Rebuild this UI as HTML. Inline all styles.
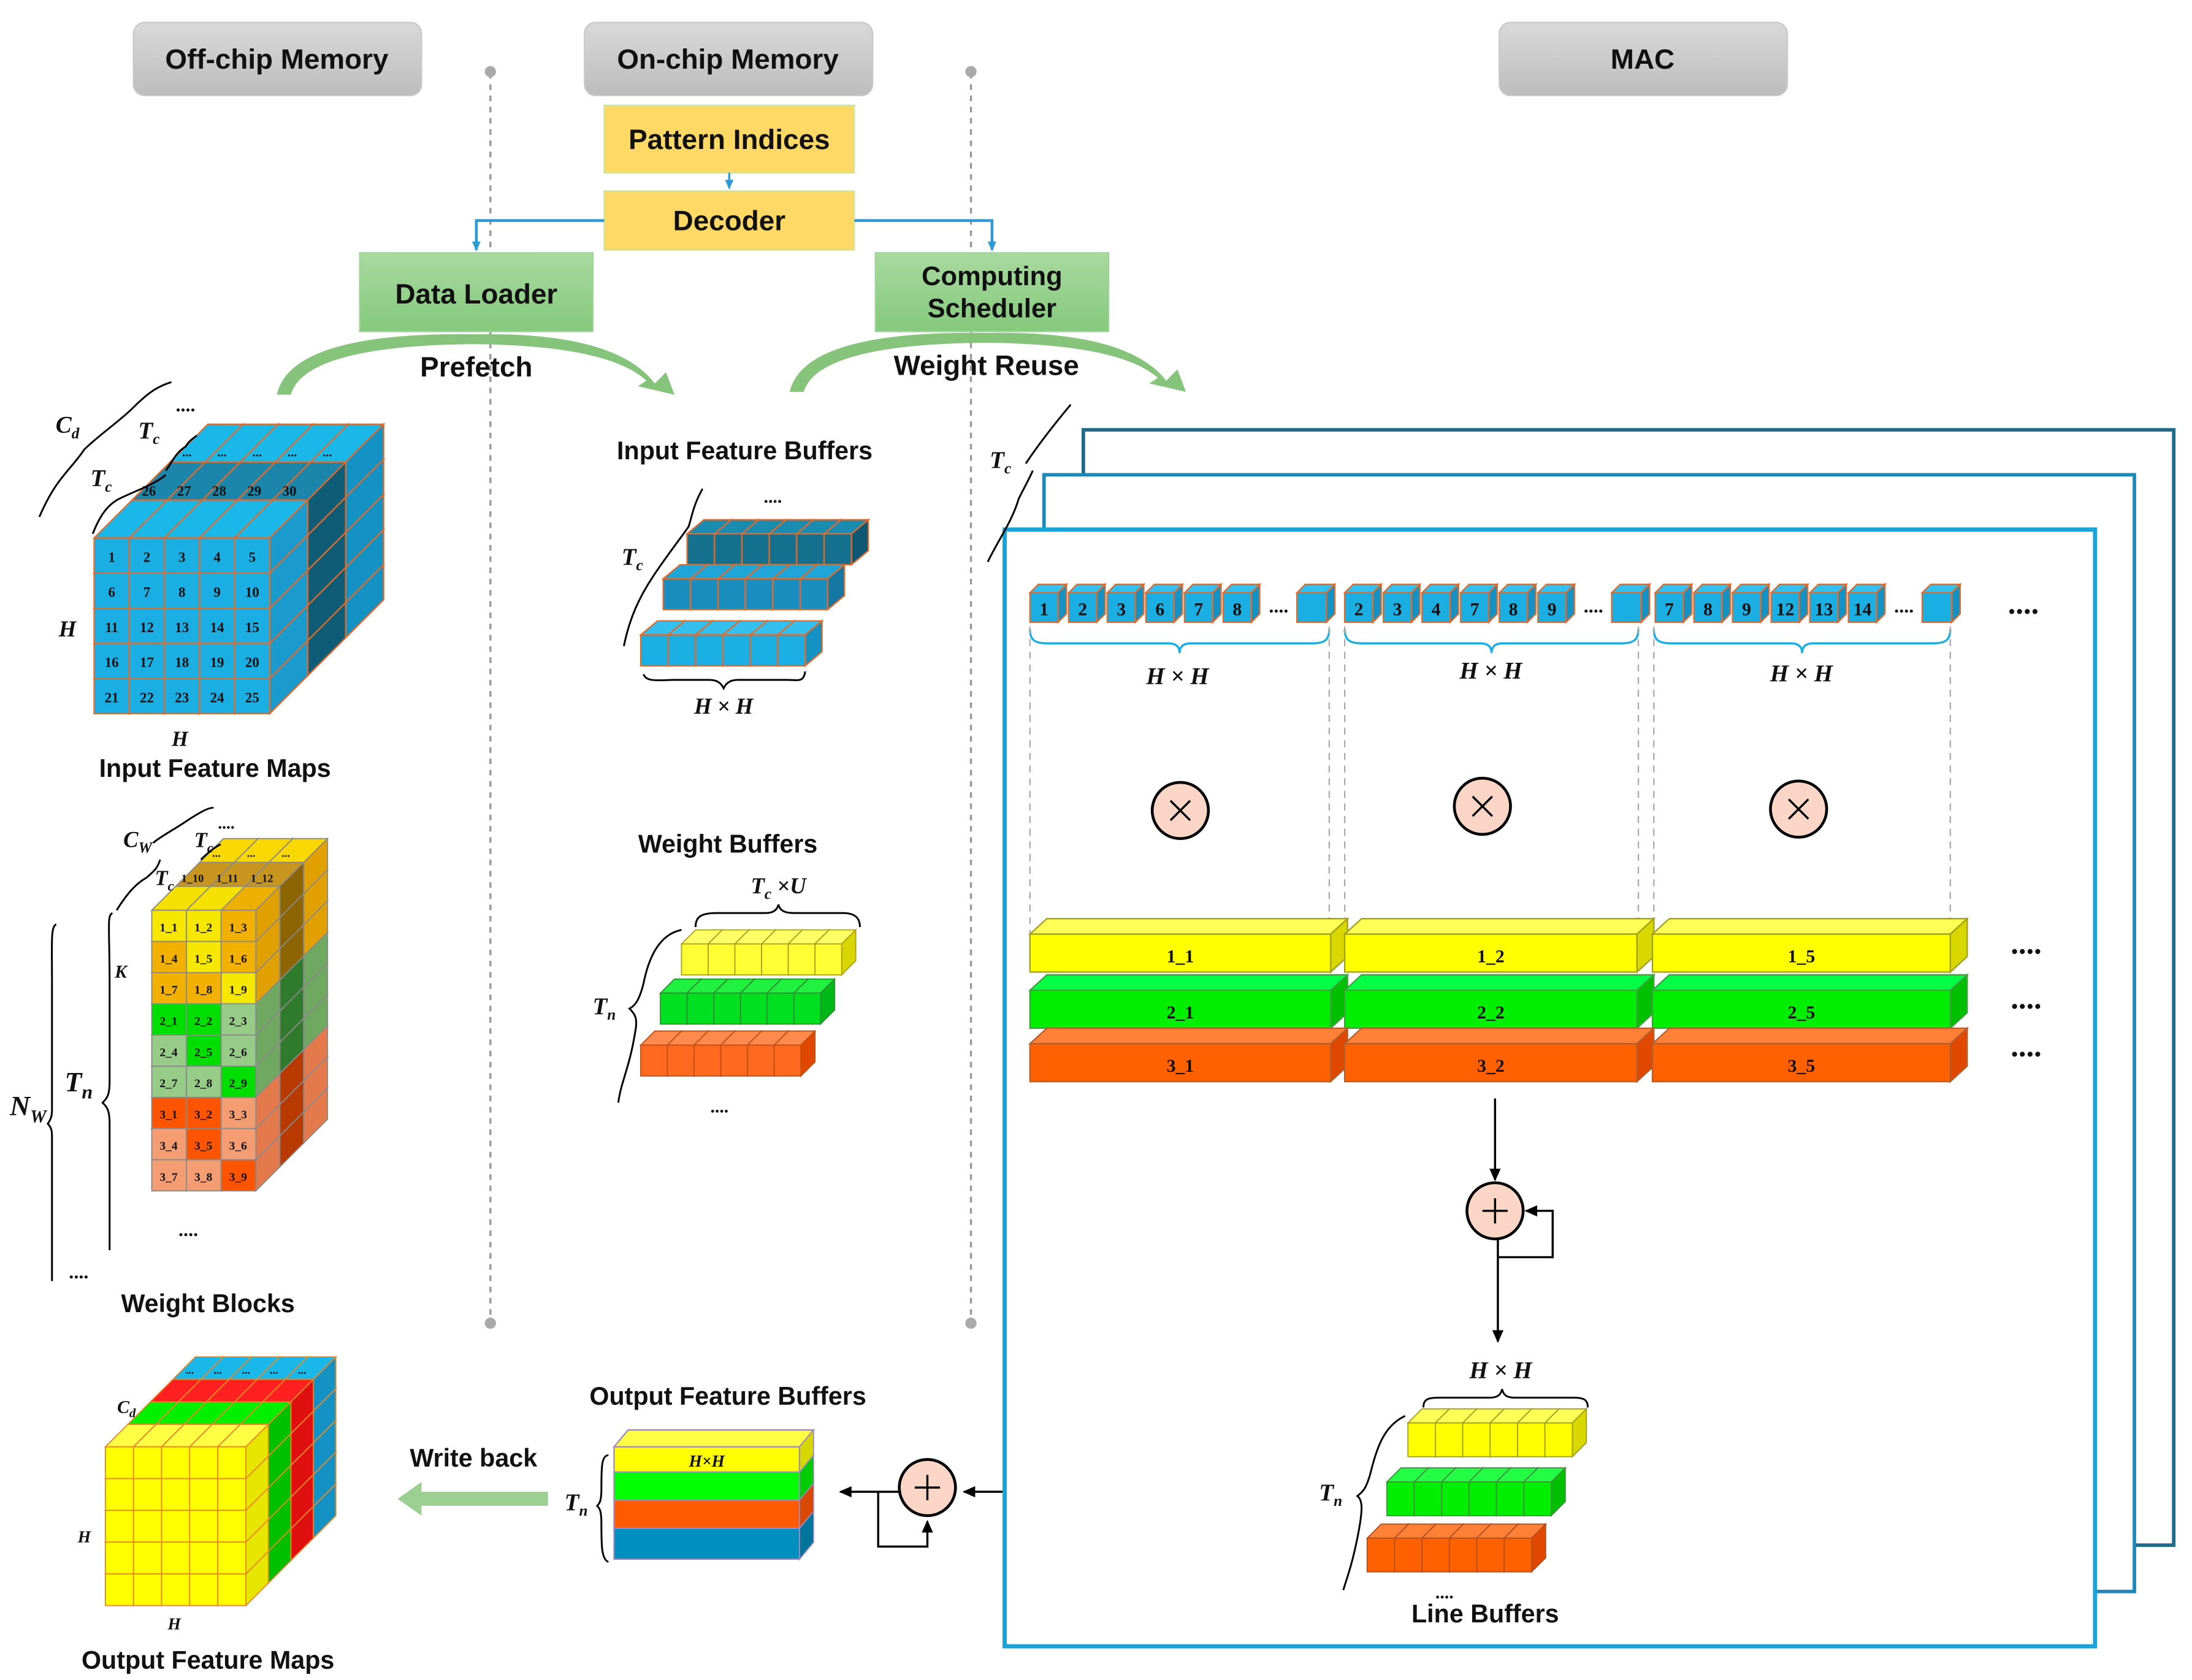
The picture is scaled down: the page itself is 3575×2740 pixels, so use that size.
<!DOCTYPE html>
<html><head><meta charset="utf-8">
<style>
html,body{margin:0;padding:0;background:#fff;}
svg{display:block;}
.t{font-family:"Liberation Sans",sans-serif;font-weight:bold;fill:#111;}
.m{font-family:"Liberation Serif",serif;font-weight:bold;font-style:italic;fill:#111;}
.n{font-family:"Liberation Serif",serif;font-weight:bold;fill:#111;}
</style></head><body>
<svg id="s" width="3575" height="2740" viewBox="0 0 1560 1196" preserveAspectRatio="none" xmlns="http://www.w3.org/2000/svg">
<defs>
<linearGradient id="gray" x1="0" y1="0" x2="0" y2="1"><stop offset="0" stop-color="#d9d9d9"/><stop offset="1" stop-color="#bdbdbd"/></linearGradient>
<linearGradient id="grn" x1="0" y1="0" x2="0" y2="1"><stop offset="0" stop-color="#a9d9a0"/><stop offset="1" stop-color="#84c97c"/></linearGradient>
<marker id="ab" markerWidth="8" markerHeight="8" refX="6" refY="4" orient="auto" markerUnits="userSpaceOnUse"><path d="M0,1 L7,4 L0,7 z" fill="#2E9BD6"/></marker>
<marker id="ak" markerWidth="10" markerHeight="10" refX="8" refY="5" orient="auto" markerUnits="userSpaceOnUse"><path d="M0,1 L9,5 L0,9 z" fill="#000"/></marker>
</defs>
<g id="g"></g>
</svg>
<script>
var g=document.getElementById('g'),out="";
function A(s){out+=s;}
function R(x,y,w,h,f,st,sw,extra){A('<rect x="'+x+'" y="'+y+'" width="'+w+'" height="'+h+'" fill="'+f+'" stroke="'+(st||'none')+'" stroke-width="'+(sw||1)+'" '+(extra||'')+'/>');}
function P(pts,f,st,sw){A('<polygon points="'+pts+'" fill="'+f+'" stroke="'+(st||'none')+'" stroke-width="'+(sw||1)+'"/>');}
function L(d,st,sw,extra){A('<path d="'+d+'" fill="none" stroke="'+st+'" stroke-width="'+(sw||1)+'" '+(extra||'')+'/>');}
function T(x,y,s,cls,size,anchor,fill){A('<text x="'+x+'" y="'+y+'" class="'+cls+'" font-size="'+size+'" text-anchor="'+(anchor||'middle')+'"'+(fill?' fill="'+fill+'"':'')+'>'+s+'</text>');}
function cube(x,y,w,h,dx,dy,fr,tp,sd,st,sw){
 P(x+','+y+' '+(x+dx)+','+(y-dy)+' '+(x+w+dx)+','+(y-dy)+' '+(x+w)+','+y,tp,st,sw);
 P((x+w)+','+y+' '+(x+w+dx)+','+(y-dy)+' '+(x+w+dx)+','+(y+h-dy)+' '+(x+w)+','+(y+h),sd,st,sw);
 R(x,y,w,h,fr,st,sw);
}
function circ(cx,cy,r,sym){A('<circle cx="'+cx+'" cy="'+cy+'" r="'+r+'" fill="#FBD6C6" stroke="#000" stroke-width="2"/>');
 if(sym=='x'){L('M'+(cx-7)+','+(cy-7)+' L'+(cx+7)+','+(cy+7)+' M'+(cx+7)+','+(cy-7)+' L'+(cx-7)+','+(cy+7),'#000',1.5);}
 else{L('M'+(cx-9)+','+cy+' L'+(cx+9)+','+cy+' M'+cx+','+(cy-9)+' L'+cx+','+(cy+9),'#000',1.5);}}
function brace(d){L(d,'#000',1.3);}

[[95,'Off-chip Memory'],[416,'On-chip Memory'],[1067,'MAC']].forEach(function(h){
 A('<rect x="'+h[0]+'" y="16" width="205" height="52" rx="8" fill="url(#gray)" stroke="#c8c8c8"/>');T(h[0]+102,49,h[1],'t',20);});
[349,691].forEach(function(x){L('M'+x+',52 L'+x+',942','#999',1.5,'stroke-dasharray="4,4"');
 A('<circle cx="'+x+'" cy="51" r="4" fill="#aaa"/><circle cx="'+x+'" cy="942" r="4" fill="#aaa"/>');});
R(430,75,178,48,'#FFD966','#cfe3a0',1);T(519,106,'Pattern Indices','t',20);
R(430,136,178,42,'#FFD966','#cfe3a0',1);T(519,164,'Decoder','t',20);
L('M519,123 L519,134','#2E9BD6',1.5,'marker-end="url(#ab)"');
L('M430,157 L339,157 L339,178','#2E9BD6',2,'marker-end="url(#ab)"');
L('M608,157 L706,157 L706,178','#2E9BD6',2,'marker-end="url(#ab)"');
R(256,180,166,56,'url(#grn)','#9fd59a',1);T(339,216,'Data Loader','t',20);
R(623,180,166,56,'url(#grn)','#9fd59a',1);T(706,203,'Computing','t',19);T(706,226,'Scheduler','t',19);
function carrow(x1,x2,y,top){var m=(x1+x2)/2;
 A('<path d="M'+x1+','+(y+2)+' Q'+(x1+10)+','+top+' '+m+','+(top+2)+' Q'+(x2-40)+','+top+' '+(x2-12)+','+(y-6)+' L'+(x2-4)+','+(y-14)+' L'+(x2+2)+','+(y+2)+' L'+(x2-24)+','+(y-4)+' L'+(x2-18)+','+(y-8)+' Q'+(x2-45)+','+(top+10)+' '+m+','+(top+9)+' Q'+(x1+20)+','+(top+10)+' '+(x1+10)+','+(y+2)+' z" fill="#86c47c"/>');}
carrow(197,478,279,236);carrow(562,842,277,235);
T(339,268,'Prefetch','t',20);T(702,267,'Weight Reuse','t',20);

(function(){var x0=67,y0=383,c=25,d=27;
 for(var k=2;k>=0;k--){var x=x0+d*k,y=y0-d*k;
  for(var r=4;r>=0;r--)for(var i=0;i<5;i++){
   cube(x+i*c,y+r*c,c,c,d,d,'#1AAEE3',k==0?'#1AB8E8':(k==1?'#1B86AA':'#1AB8E8'),k==0?'#1A9ACD':(k==1?'#0E5C76':'#1592C4'),'#E46A2A',1);}
 }
 var n=1;for(var r=0;r<5;r++)for(var i=0;i<5;i++){T(x0+i*c+12.5,y0+r*c+17,n,'n',10);n++;}
 for(var i=0;i<5;i++){T(x0+d+i*c+12,y0-d-3,26+i,'n',10);T(x0+2*d+i*c+12,y0-2*d-4,'...','n',9);}
 T(48,453,'H','m',16);T(128,531,'H','m',15);T(153,553,'Input Feature Maps','t',18);
 T(48,308,'C<tspan font-size="11" dy="4">d</tspan>','m',17);T(106,312,'T<tspan font-size="11" dy="4">c</tspan>','m',17);T(72,346,'T<tspan font-size="11" dy="4">c</tspan>','m',17);
 T(132,293,'....','n',14);
 brace('M28,368 C40,340 50,335 60,320 C70,310 85,300 95,290 C105,280 112,275 122,272');
 brace('M66,380 C70,370 75,360 85,355 C95,350 110,345 118,338');
 brace('M118,335 C122,330 125,322 132,318 C135,313 138,312 140,310');
})();

(function(){var x0=108,y0=648,cw=24.7,ch=22.2,d=17;
 var bands=[{a:'#F6E700',b:'#F2B100',t:'#F8D800',s:'#E0A000',bt:'#C8961E',bs:'#8C6400',pat:'AAB BAB BBA',p:'1'},
 {a:'#00DD00',b:'#96CC88',t:'#7BB26B',s:'#6FA860',bt:'#3E9A3A',bs:'#2F7A2C',pat:'AAB BAB BBA',p:'2'},
 {a:'#FF5500',b:'#F59D72',t:'#EE8454',s:'#E47A4C',bt:'#E05010',bs:'#B83A00',pat:'AAB BAB BBA',p:'3'}];
 for(var k=2;k>=0;k--){var x=x0+d*k,y=y0-d*k;
  for(var r=8;r>=0;r--){var bd=bands[Math.floor(r/3)];
   for(var i=0;i<3;i++){
    var top=k==0?(r==0?'#F5E000':bd.t):(k==1?bd.bt:bd.t), sd=k==1?bd.bs:bd.s;
    var pat=bd.pat.split(' ')[r%3][i]=='A'?bd.a:bd.b;
    if(k==0&&r==0&&i==2)top='#EDB000';
    cube(x+i*cw,y+r*ch,cw,ch,d,d,k==0?pat:bd.b,top,sd,'#8a8a8a',0.8);}}}
 for(var r=0;r<9;r++)for(var i=0;i<3;i++){T(x0+i*cw+12,y0+r*ch+15,bands[Math.floor(r/3)].p+'_'+((r%3)*3+i+1),'n',8.5);}
 for(var i=0;i<3;i++){T(x0+d+i*cw+12,y0-d-3,'1_'+(10+i),'n',8);T(x0+2*d+i*cw+12,y0-2*d-4,'...','n',8);}
 T(98,603,'C<tspan font-size="11" dy="4">W</tspan>','m',16);T(145,603,'T<tspan font-size="10" dy="4">c</tspan>','m',15);T(117,630,'T<tspan font-size="10" dy="4">c</tspan>','m',15);
 T(161,590,'....','n',12);T(86,696,'K','m',13);
 T(56,777,'T<tspan font-size="14" dy="5">n</tspan>','m',20);T(20,794,'N<tspan font-size="13" dy="5">W</tspan>','m',20);
 brace('M80,650 C76,652 78,660 78,700 L78,770 C78,780 76,782 73,785 C76,788 78,790 78,800 L78,890');
 brace('M40,658 C36,660 37,670 37,700 L37,790 C37,795 36,797 34,800 C37,803 37,806 37,810 L37,912');
 brace('M83,648 C88,640 95,630 104,625 C110,620 112,618 114,612');
 brace('M109,600 C115,595 125,590 135,583 C143,578 148,575 152,575');
 brace('M143,612 C147,608 150,605 157,601');
 T(134,880,'....','n',14);T(56,910,'....','n',14);
 T(148,934,'Weight Blocks','t',18);
})();

(function(){T(530,327,'Input Feature Buffers','t',18);
 var bars=[[489,380,'#15708E','#1B8CB0','#0E5874'],[472,412,'#1A8FBF','#20A6D6','#1578A2'],[456,452,'#1AAEE3','#33C0EE','#1592C4']];
 bars.forEach(function(b){for(var i=0;i<6;i++)cube(b[0]+i*19.5,b[1],19.5,22,12,10,b[2],b[3],b[4],'#E46A2A',1);});
 T(550,358,'....','n',13);T(450,402,'T<tspan font-size="11" dy="4">c</tspan>','m',17);
 brace('M444,460 C448,440 455,425 465,410 C475,395 483,385 490,375 C492,370 493,360 500,348');
 brace('M458,480 C460,486 470,484 480,484 L505,484 C512,484 514,488 515,490 C516,488 518,484 525,484 L560,484 C568,484 572,486 573,478');
 T(515,508,'H × H','m',16);
})();

(function(){T(518,607,'Weight Buffers','t',18);
 T(554,636,'T<tspan font-size="11" dy="4">c</tspan><tspan dy="-4"> ×</tspan>U','m',16);
 brace('M495,660 C495,652 500,650 510,650 L545,650 C550,650 553,648 554,644 C555,648 558,650 565,650 L600,650 C610,650 612,655 612,660');
 var bars=[[485,672,'#FFFF33','#FFFF66','#D6D600','#B0A020'],[470,707,'#00E020','#20F040','#00B818','#309030'],[456,744,'#FF6A20','#FF8A50','#E04800','#C05010']];
 bars.forEach(function(b){for(var i=0;i<6;i++)cube(b[0]+i*19,b[1],19,22,10,10,b[2],b[3],b[4],b[5],0.8);});
 T(430,722,'T<tspan font-size="11" dy="4">n</tspan>','m',17);
 brace('M485,662 C470,665 462,680 458,700 C455,712 452,716 448,718 C452,722 454,725 452,735 C448,760 442,770 440,785');
 T(512,792,'....','n',13);
})();

(function(){T(518,1000,'Output Feature Buffers','t',18);
 var x=437,w=132,dx=10,dy=12,ys=[[1030,18,'#FFFF00','#D6D600'],[1048,20,'#00FF00','#00CC00'],[1068,20,'#FF5A00','#D84800'],[1088,22,'#0090C0','#00759C']];
 P(x+',1030 '+(x+dx)+','+(1030-dy)+' '+(x+w+dx)+','+(1030-dy)+' '+(x+w)+',1030','#FFFF44','#a088c0',1);
 ys.forEach(function(b){R(x,b[0],w,b[1],b[2],'#a088c0',1);P((x+w)+','+b[0]+' '+(x+w+dx)+','+(b[0]-dy)+' '+(x+w+dx)+','+(b[0]+b[1]-dy)+' '+(x+w)+','+(b[0]+b[1]),b[3],'#a088c0',0.8);});
 T(503,1044,'H×H','m',12);
 T(410,1075,'T<tspan font-size="11" dy="4">n</tspan>','m',17);
 brace('M433,1036 C428,1036 428,1045 428,1060 C428,1068 427,1070 425,1072 C427,1074 428,1076 428,1085 C428,1100 428,1110 433,1112');
 circ(660,1059,20,'+');
 L('M716,1062 L686,1062','#000',1.5,'marker-end="url(#ak)"');
 L('M640,1062 L598,1062','#000',1.5,'marker-end="url(#ak)"');
 L('M625,1062 L625,1101 L660,1101 L660,1083','#000',1.5,'marker-end="url(#ak)"');
 A('<path d="M390,1062 L300,1062 L300,1055 L283,1067 L300,1079 L300,1072 L390,1072 z" fill="#9ccf92"/>');
 T(337,1044,'Write back','t',18);
})();

(function(){var x0=75,y0=1030,cw=20,ch=22.6,d=16;
 var L4=[['#FFFF00','#FFFF44','#E6E600'],['#00E000','#00F000','#00C000'],['#FF2020','#FF2020','#E01010'],['#1AAEE3','#1AB8E8','#1592C4']];
 for(var k=3;k>=0;k--){var x=x0+d*k,y=y0-d*k,c=L4[k];
  for(var r=4;r>=0;r--)for(var i=0;i<5;i++){
   cube(x+i*cw,y+r*ch,cw,ch,d,d,c[0],c[1],c[2],'#E4892A',0.8);}}
 for(var i=0;i<5;i++)T(x0+3*d+i*cw+12,y0-3*d-4,'...','n',8);
 T(90,1006,'C<tspan font-size="9" dy="3">d</tspan>','m',13);T(60,1098,'H','m',12);T(124,1160,'H','m',12);
 T(148,1188,'Output Feature Maps','t',18);
})();

R(771,306,776,794,'#fff','#1E6A88',2.5);
R(743,338,776,795,'#fff','#1E88B8',2.5);
R(715,377,776,795,'#fff','#1AA3D8',3);
T(712,333,'T<tspan font-size="11" dy="4">c</tspan>','m',17);
brace('M703,400 C710,385 720,372 725,355 C730,345 733,340 735,335');
brace('M730,330 C740,315 752,300 762,288');
(function(){
 var groups=[[733,[1,2,3,6,7,8],923],[957,[2,3,4,7,8,9],1147],[1178,[7,8,9,12,13,14],1368]];
 groups.forEach(function(gp){for(var i=0;i<6;i++){var x=gp[0]+i*27.5;cube(x,422,20,21,6,6,'#1AAEE3','#33C0EE','#1592C4','#E46A2A',1);T(x+10,438,gp[1][i],'n',13);}
  T(gp[0]+177,436,'....','n',14);cube(gp[2],422,21,21,6,6,'#1AAEE3','#33C0EE','#1592C4','#E46A2A',1);});
 T(1440,437,'....','n',22);
 var spans=[[733,946,838,487],[957,1166,1061,483],[1177,1388,1282,485]];
 spans.forEach(function(s){var m=(s[0]+s[1])/2;
  L('M'+s[0]+',448 C'+s[0]+',456 '+(s[0]+4)+',458 '+(s[0]+12)+',458 L'+(m-8)+',458 C'+(m-3)+',458 '+m+',460 '+m+',465 C'+m+',460 '+(m+3)+',458 '+(m+8)+',458 L'+(s[1]-12)+',458 C'+(s[1]-4)+',458 '+s[1]+',456 '+s[1]+',448','#1AAEE3',1.5);
  T(s[2],s[3],'H × H','m',17);
  L('M'+s[0]+',446 L'+s[0]+',690','#aaa',1,'stroke-dasharray="5,4"');
  L('M'+s[1]+',446 L'+s[1]+',690','#aaa',1,'stroke-dasharray="5,4"');});
 circ(840,577,20,'x');circ(1055,574,20,'x');circ(1280,576,20,'x');
 var rows=[[665,'#FFFF00','#FFFF55','#D8D800','#A0A020','1'],[705,'#00EE00','#00FF44','#00C000','#40A040','2'],[743,'#FF6000','#FF8036','#E04800','#B06030','3']];
 var cols=[[733,214,'1'],[957,208,'2'],[1176,212,'5']];
 rows.forEach(function(r){cols.forEach(function(c){cube(c[0],r[0],c[1],27,12,11,r[1],r[2],r[3],r[4],1);T(c[0]+c[1]/2,r[0]+20,r[5]+'_'+c[2],'n',13);});});
 T(1442,679,'....','n',22);T(1442,718,'....','n',22);T(1442,752,'....','n',22);
 L('M1064,782 L1064,840','#000',1.5,'marker-end="url(#ak)"');
 circ(1064,862,20,'+');
 L('M1066,882 L1066,955','#000',1.5,'marker-end="url(#ak)"');
 L('M1066,895 L1105,895 L1105,862 L1086,862','#000',1.5,'marker-end="url(#ak)"');
 T(1068,981,'H × H','m',17);
 L('M1013,1002 C1013,996 1016,995 1025,995 L1060,995 C1066,995 1068,993 1069,989 C1070,993 1072,995 1078,995 L1120,995 C1128,995 1130,997 1130,1002','#000',1.3);
 var lb=[[1002,1013,'#FFFF00','#FFFF55','#D8D800','#A0A020'],[987,1055,'#00EE00','#22FF44','#00C000','#409040'],[973,1095,'#FF6000','#FF8036','#E04800','#B05020']];
 lb.forEach(function(b){for(var i=0;i<6;i++)cube(b[0]+i*19.5,b[1],19.5,24,10,10,b[2],b[3],b[4],b[5],0.8);});
 T(947,1068,'T<tspan font-size="11" dy="4">n</tspan>','m',17);
 brace('M1000,1008 C985,1015 980,1030 975,1050 C972,1060 970,1062 966,1065 C970,1068 970,1075 966,1095 C962,1115 958,1125 956,1132');
 T(1028,1138,'....','n',13);T(1057,1155,'Line Buffers','t',18);
})();
g.innerHTML=out;
</script>
</body></html>
